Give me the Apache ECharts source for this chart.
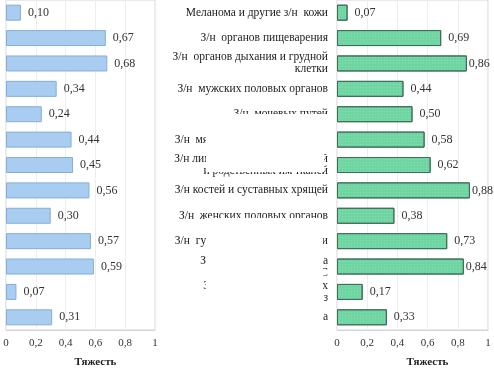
<!DOCTYPE html>
<html>
<head>
<meta charset="utf-8">
<script src="https://cdn.jsdelivr.net/npm/echarts@6/dist/echarts.min.js"></script>
<style>
  html, body { margin: 0; padding: 0; background: #fff; }
  #chart { width: 494px; height: 373px; }
</style>
</head>
<body>
<div id="chart"></div>
<script>
  // категории (правая панель), сверху вниз
  const categories = [
    'Меланома и другие з/н  кожи',
    'З/н  органов пищеварения',
    'З/н  органов дыхания и грудной\nклетки',
    'З/н  мужских половых органов',
    'З/н  мочевых путей',
    'З/н  мягких тканей и мезотелия',
    'З/н лимфоидной, кроветворной\nи родственных им тканей',
    'З/н костей и суставных хрящей',
    'З/н  женских половых органов',
    'З/н  губы, полости рта и глотки',
    'З/н глаза, головного мозга\nи других отделов ЦНС',
    'З/н щитовидной и других\nэндокринных желез',
    'З/н без уточнения места',
  ];

  // тяжесть, левая панель
  const leftValues = [0.10, 0.67, 0.68, 0.34, 0.24, 0.44, 0.45, 0.56, 0.30, 0.57, 0.59, 0.07, 0.31];
  // тяжесть, правая панель
  const rightValues = [0.07, 0.69, 0.86, 0.44, 0.50, 0.58, 0.62, 0.88, 0.38, 0.73, 0.84, 0.17, 0.33];

  const axisTicks = [0, 0.2, 0.4, 0.6, 0.8, 1];

  const serif = 'Liberation Serif';
  const fmt = (v) => String(v).replace('.', ',');

  const chart = echarts.init(document.getElementById('chart'));

  const xAxisBase = (gridIndex) => ({
    type: 'value',
    gridIndex,
    min: axisTicks[0],
    max: axisTicks[axisTicks.length - 1],
    interval: 0.2,
    name: 'Тяжесть',
    nameLocation: 'middle',
    nameGap: 27,
    nameTextStyle: {
      fontFamily: serif,
      fontSize: 11,
      fontWeight: 'bold',
      color: '#222',
      padding: [0, 0, 0, 30],
    },
    axisLine: { show: true, lineStyle: { color: '#d4d4d4' } },
    axisTick: { show: false },
    axisLabel: {
      fontFamily: serif,
      fontSize: 11,
      color: '#333',
      margin: 8,
      formatter: (v) => fmt(v),
    },
    splitLine: { show: true, lineStyle: { color: '#eeeeee' } },
  });

  const valueLabel = {
    show: true,
    position: 'right',
    distance: 7,
    fontFamily: serif,
    fontSize: 12,
    color: '#333',
    formatter: (p) => p.value.toFixed(2).replace('.', ','),
  };

  // длинные столбцы справа: подпись вплотную, чтобы не обрезалась
  const rightData = rightValues.map((v) => (v > 0.8 ? { value: v, label: { distance: 2 } } : v));

  const option = {
    animation: false,
    backgroundColor: '#fff',
    grid: [
      { left: 6, right: 339, top: 0, bottom: 36, show: true, borderColor: '#d4d4d4', borderWidth: 1 },
      { left: 337, right: 6, top: 0, bottom: 36, show: true, borderColor: '#d4d4d4', borderWidth: 1 },
    ],
    xAxis: [xAxisBase(0), xAxisBase(1)],
    yAxis: [
      {
        type: 'category',
        gridIndex: 0,
        inverse: true,
        data: categories,
        axisLine: { show: false },
        axisTick: { show: false },
        axisLabel: { show: false },
      },
      {
        type: 'category',
        gridIndex: 1,
        inverse: true,
        data: categories,
        axisLine: { show: false },
        axisTick: { show: false },
        axisLabel: {
          fontFamily: serif,
          fontSize: 11.5,
          color: '#222',
          margin: 9,
          lineHeight: 12,
          align: 'right',
          padding: [0, 0, 4, 0],
        },
      },
    ],
    series: [
      {
        type: 'bar',
        xAxisIndex: 0,
        yAxisIndex: 0,
        data: leftValues,
        barWidth: 16,
        itemStyle: { color: '#a8cdf0', borderColor: '#86acd8', borderWidth: 1 },
        label: valueLabel,
      },
      {
        type: 'bar',
        xAxisIndex: 1,
        yAxisIndex: 1,
        data: rightData,
        barWidth: 16,
        itemStyle: {
          color: '#6fd6a3',
          borderColor: '#3f6e57',
          borderWidth: 1,
          decal: {
            symbol: 'rect',
            symbolSize: 1,
            dashArrayX: [1, 2],
            dashArrayY: [1, 2],
            color: 'rgba(255,255,255,0.18)',
          },
        },
        label: valueLabel,
      },
    ],
    // белые пятна скана поверх подписей
    graphic: [
      { type: 'rect', shape: { x: 206, y: 114, width: 124, height: 40 }, style: { fill: '#fff' }, z: 100 },
      { type: 'rect', shape: { x: 206, y: 154, width: 118, height: 18 }, style: { fill: '#fff' }, z: 100 },
      { type: 'rect', shape: { x: 206, y: 218, width: 117, height: 117 }, style: { fill: '#fff' }, z: 100 },
    ],
  };

  chart.setOption(option);
</script>
</body>
</html>
